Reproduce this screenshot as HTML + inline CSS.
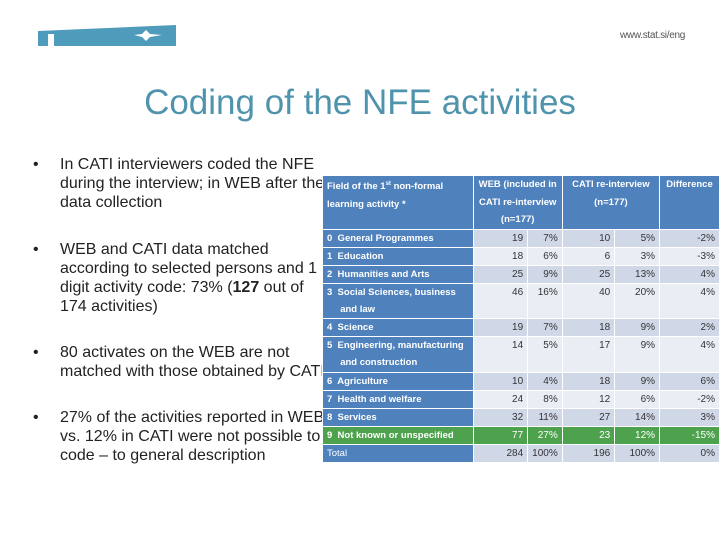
<!DOCTYPE html>
<html><head><meta charset="utf-8"><style>
*{margin:0;padding:0;box-sizing:border-box}
body{width:720px;height:540px;background:#fff;position:relative;overflow:hidden;font-family:"Liberation Sans",sans-serif}
.title{position:absolute;left:0;width:720px;top:83px;text-align:center;font-size:35px;color:#4f93ad}
.url{position:absolute;left:620px;top:30px;font-size:10px;color:#555;letter-spacing:-0.3px}
.b{position:absolute;left:33px;font-size:16px;color:#222;line-height:19px}
.b span{position:absolute;left:27px;width:270px;white-space:nowrap}
table{position:absolute;left:322px;top:175px;border-collapse:collapse;font-size:9px;font-weight:bold;table-layout:fixed}
td{border:1px solid #fff;padding:0 4px;height:17.8px;color:#333;font-weight:normal;font-size:10px;text-align:right;vertical-align:top;line-height:17px}
td.l{background:#4f81bd;color:#fff;text-align:left;font-weight:bold;font-size:9.5px}
th{background:#4f81bd;color:#fff;border:1px solid #fff;vertical-align:top;line-height:17.5px;font-size:9.5px;padding:0 4px;height:52px}
tr.a td:not(.l){background:#d0d8e8}
tr.c td:not(.l){background:#e9edf4}
tr.g td{background:#4ea24e;color:#fff}
</style></head><body>
<svg style="position:absolute;left:36px;top:22px" width="142" height="28">
<path d="M2 9 L140 3 L140 24 L2 24 Z" fill="#4f9bbb"/>
<rect x="12" y="12" width="6" height="14" fill="#fff"/>
<path d="M98 13 L106 12 L110 8 L114 12 L126 13 L114 15 L110 19 L106 15 Z" fill="#fff"/>
</svg>
<div class="url">www.stat.si/eng</div>
<div class="title">Coding of the NFE activities</div>
<div class="b" style="top:155px">•<span>In CATI interviewers coded the NFE<br>during the interview; in WEB after the<br>data collection</span></div>
<div class="b" style="top:240px">•<span>WEB and CATI data matched<br>according to selected persons and 1<br>digit activity code: 73% (<b>127</b> out of<br>174 activities)</span></div>
<div class="b" style="top:343px">•<span>80 activates on the WEB are not<br>matched with those obtained by CATI</span></div>
<div class="b" style="top:408px">•<span>27% of the activities reported in WEB<br>vs. 12% in CATI were not possible to<br>code – to general description</span></div>
<table>
<colgroup><col style="width:152px"><col style="width:55px"><col style="width:30px"><col style="width:53px"><col style="width:45px"><col style="width:60px"></colgroup>
<tr><th style="text-align:left">Field of the 1<sup style="font-size:6px">st</sup> non-formal<br>learning activity *</th><th colspan="2">WEB (included in<br>CATI re-interview<br>(n=177)</th><th colspan="2">CATI re-interview<br>(n=177)</th><th>Difference</th></tr>
<tbody id="tb"></tbody>
</table>
<script>
const labels=["0&nbsp; General Programmes","1&nbsp; Education","2&nbsp; Humanities and Arts","3&nbsp; Social Sciences, business<br>&nbsp;&nbsp;&nbsp;&nbsp; and law","4&nbsp; Science","5&nbsp; Engineering, manufacturing<br>&nbsp;&nbsp;&nbsp;&nbsp; and construction","6&nbsp; Agriculture","7&nbsp; Health and welfare","8&nbsp; Services","9&nbsp; Not known or unspecified","Total"];
const webN=[19,18,25,46,19,14,10,24,32,77,284];
const webP=["7%","6%","9%","16%","7%","5%","4%","8%","11%","27%","100%"];
const catiN=[10,6,25,40,18,17,18,12,27,23,196];
const catiP=["5%","3%","13%","20%","9%","9%","9%","6%","14%","12%","100%"];
const diff=["-2%","-3%","4%","4%","2%","4%","6%","-2%","3%","-15%","0%"];
const tb=document.getElementById('tb');
labels.forEach((l,i)=>{
 const tr=document.createElement('tr');
 
 
 tr.className=i===9?'g':(i%2===0?'a':'c');
 const two=l.includes('<br>');
 tr.innerHTML=`<td class="l" style="${i===10?'font-weight:normal':''}">${l}</td><td>${webN[i]}</td><td>${webP[i]}</td><td>${catiN[i]}</td><td>${catiP[i]}</td><td>${diff[i]}</td>`;
 if(two) tr.querySelectorAll('td').forEach(td=>td.style.height='35.6px');
 tb.appendChild(tr);
});
</script>
</body></html>
